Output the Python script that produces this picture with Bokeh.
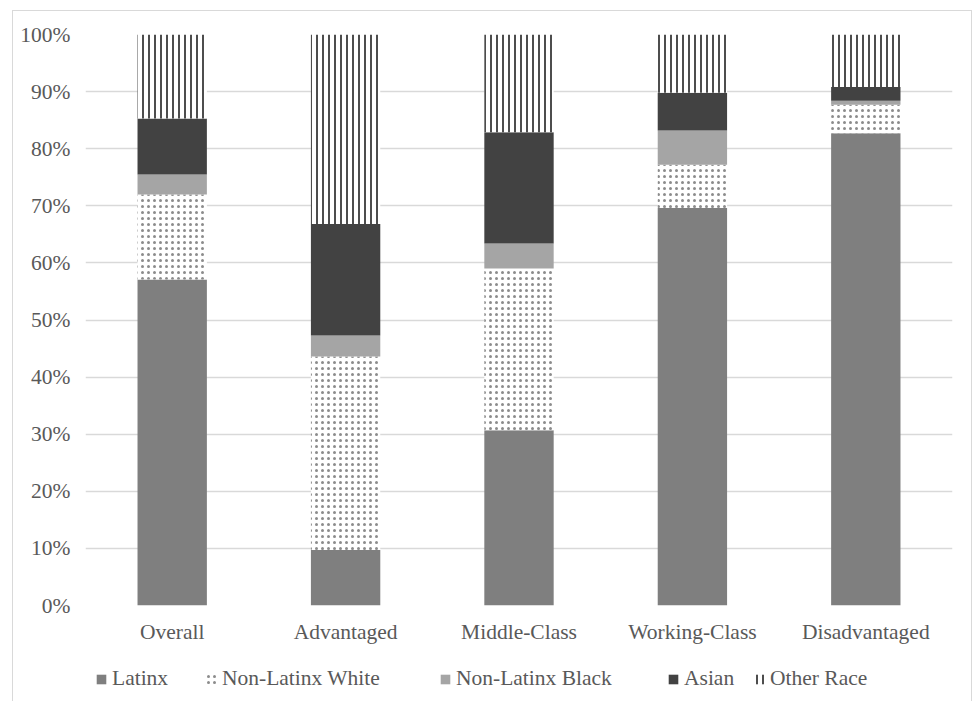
from bokeh.plotting import figure
from bokeh.layouts import column
from bokeh.models import (ColumnDataSource, Legend, LegendItem, FactorRange, Range1d,
                          FixedTicker, PrintfTickFormatter)
from bokeh.transform import stack
from bokeh.embed import file_html
from bokeh.resources import INLINE

categories = ["Overall", "Advantaged", "Middle-Class", "Working-Class", "Disadvantaged"]
latinx = [57.1, 9.7, 30.7, 69.6, 82.7]
nl_white = [14.9, 33.9, 28.3, 7.6, 5.0]
nl_black = [3.5, 3.7, 4.4, 6.0, 0.7]
asian = [9.8, 19.5, 19.5, 6.6, 2.4]
other_race = [14.7, 33.2, 17.1, 10.2, 9.2]
series_labels = ["Latinx", "Non-Latinx White", "Non-Latinx Black", "Asian", "Other Race"]
y_ticks = [0, 10, 20, 30, 40, 50, 60, 70, 80, 90, 100]

fields = ["latinx", "nl_white", "nl_black", "asian", "other_race"]
source = ColumnDataSource(dict(cat=categories, latinx=latinx, nl_white=nl_white,
                               nl_black=nl_black, asian=asian, other_race=other_race))

FONT = "Liberation Serif"
TXT = "#595959"

p = figure(x_range=FactorRange(*categories, range_padding=0), y_range=Range1d(0, 100),
           width=958, height=645, output_backend="svg", toolbar_location=None,
           min_border_left=72, min_border_right=19, min_border_top=23, min_border_bottom=51)
p.outline_line_color = None
p.background_fill_color = "white"
p.border_fill_color = "white"

styles = [
    dict(fill_color="#7f7f7f"),
    dict(fill_color="white", hatch_pattern="dot", hatch_color="black", hatch_alpha=0.45,
         hatch_scale=6, hatch_weight=0.1),
    dict(fill_color="#a5a5a5"),
    dict(fill_color="#424242"),
    dict(fill_color="white", hatch_pattern="vertical_line", hatch_color="#111111",
         hatch_scale=6, hatch_weight=1.5),
]

for i, f in enumerate(fields):
    p.vbar(x="cat", width=0.4, bottom=stack(*fields[:i]), top=stack(*fields[:i + 1]),
           source=source, line_color=None, **styles[i])

p.yaxis.ticker = FixedTicker(ticks=y_ticks)
p.yaxis.formatter = PrintfTickFormatter(format="%d%%")
for ax in (p.xaxis[0], p.yaxis[0]):
    ax.axis_line_color = None
    ax.major_tick_line_color = None
    ax.minor_tick_line_color = None
    ax.major_label_text_font = FONT
    ax.major_label_text_font_size = "21.5px"
    ax.major_label_text_color = TXT
p.yaxis.major_label_standoff = 9
p.xaxis.major_label_standoff = 8

p.xgrid.grid_line_color = None
p.ygrid.ticker = FixedTicker(ticks=y_ticks)
p.ygrid.grid_line_color = "#d9d9d9"
p.ygrid.grid_line_width = 1.3

# legend strip: the same stacked series, with a y-range that keeps the bars out of view,
# so only the legend swatches and labels show
lg = figure(width=958, height=45, output_backend="svg", toolbar_location=None,
            x_range=FactorRange(*categories, range_padding=0), y_range=Range1d(500, 600),
            x_axis_type=None, y_axis_type=None,
            min_border_left=0, min_border_right=0, min_border_top=0, min_border_bottom=0)
lg.outline_line_color = None
lg.xgrid.visible = False
lg.ygrid.visible = False
lg_renderers = []
for i, f in enumerate(fields):
    lg_renderers.append(lg.vbar(x="cat", width=0.4, bottom=stack(*fields[:i]),
                                top=stack(*fields[:i + 1]), source=source,
                                line_color=None, **styles[i]))

legend_x = [10, 120, 354, 582, 668]
for i in range(5):
    leg = Legend(items=[LegendItem(label=series_labels[i], renderers=[lg_renderers[i]])],
                 orientation="horizontal", location=(legend_x[i], 10), padding=0, margin=0,
                 label_standoff=5, glyph_width=12, glyph_height=12,
                 label_text_font=FONT, label_text_font_size="21.5px", label_text_color=TXT,
                 border_line_color=None, background_fill_alpha=0)
    lg.add_layout(leg)

layout = column(p, lg, spacing=0)
layout.styles = {"border": "1px solid #d9d9d9", "border-bottom": "none",
                 "margin-left": "12px", "margin-top": "10px"}

open("out.html", "w").write(file_html(layout, INLINE))
